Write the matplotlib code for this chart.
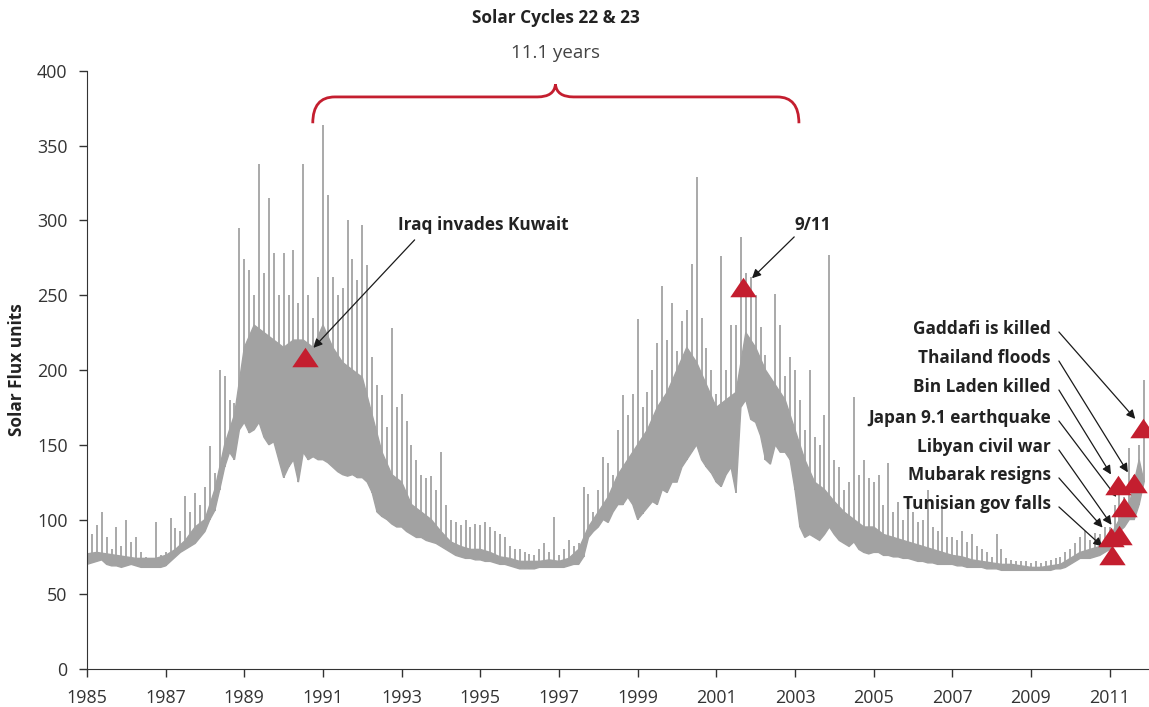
import numpy as np
import matplotlib.pyplot as plt
from matplotlib.path import Path
from matplotlib.patches import PathPatch

plt.rcParams['font.family'] = ['Open Sans', 'DejaVu Sans']

# Daily 10.7cm solar flux.
# flux_hi / flux_lo: highest spike and lowest dip, 8 readings per year from 1985.0
flux_hi = [
    82, 90, 96, 105, 88, 80, 95, 82,          # 1985
    100, 85, 88, 78, 75, 74, 98, 76,          # 1986
    78, 101, 94, 92, 116, 105, 118, 110,      # 1987
    122, 149, 131, 200, 196, 180, 178, 295,   # 1988
    274, 267, 250, 338, 265, 315, 278, 250,   # 1989
    278, 250, 280, 245, 338, 250, 235, 262,   # 1990
    364, 317, 262, 250, 255, 300, 274, 260,   # 1991
    297, 270, 209, 190, 183, 162, 228, 175,   # 1992
    184, 166, 150, 140, 130, 128, 129, 120,   # 1993
    145, 110, 100, 98, 96, 100, 95, 97,       # 1994
    96, 98, 95, 92, 90, 88, 82, 80,           # 1995
    80, 78, 77, 76, 80, 84, 78, 102,          # 1996
    76, 80, 86, 82, 84, 122, 117, 105,        # 1997
    120, 142, 138, 130, 160, 183, 170, 184,   # 1998
    234, 175, 185, 200, 218, 256, 220, 245,   # 1999
    213, 233, 240, 271, 329, 235, 215, 200,   # 2000
    184, 276, 200, 230, 230, 289, 265, 262,   # 2001
    250, 229, 210, 180, 251, 230, 196, 209,   # 2002
    200, 180, 160, 200, 155, 150, 170, 277,   # 2003
    140, 135, 120, 125, 182, 130, 140, 128,   # 2004
    125, 130, 110, 138, 105, 112, 100, 108,   # 2005
    105, 98, 100, 120, 95, 92, 110, 88,       # 2006
    88, 86, 92, 85, 90, 82, 80, 78,           # 2007
    75, 90, 80, 74, 73, 72, 72, 72,           # 2008
    71, 72, 71, 72, 73, 74, 75, 78,           # 2009
    80, 84, 88, 92, 86, 91, 90, 95,           # 2010
    95, 110, 117, 115, 148, 130, 150, 193,    # 2011
]
flux_lo = [
    70, 71, 72, 73, 70, 69, 69, 68,
    69, 70, 69, 68, 68, 68, 68, 68,
    69, 72, 75, 78, 80, 82, 84, 88,
    92, 100, 106, 120, 135, 145, 140, 160,
    165, 158, 160, 165, 155, 150, 152, 140,
    128, 135, 140, 125, 145, 140, 142, 140,
    140, 138, 135, 132, 130, 129, 130, 128,
    128, 125, 118, 105, 102, 100, 97, 95,
    95, 92, 90, 88, 88, 86, 85, 84,
    82, 80, 78, 76, 75, 74, 74, 73,
    73, 72, 72, 71, 70, 70, 69, 68,
    67, 67, 67, 67, 68, 68, 68, 68,
    68, 68, 69, 70, 70, 75, 88, 92,
    95, 100, 98, 105, 110, 110, 115, 110,
    100, 104, 108, 112, 110, 120, 118, 125,
    125, 135, 140, 145, 150, 140, 135, 131,
    125, 122, 130, 135, 118, 175, 180, 167,
    165, 156, 140, 137, 150, 145, 145, 140,
    120, 95, 88, 90, 88, 86, 90, 95,
    90, 86, 84, 82, 85, 80, 78, 77,
    78, 78, 76, 76, 75, 75, 74, 74,
    73, 72, 72, 71, 71, 70, 70, 70,
    70, 69, 69, 68, 68, 68, 68, 67,
    67, 67, 66, 66, 66, 66, 66, 66,
    66, 66, 66, 66, 66, 67, 67, 68,
    70, 72, 74, 74, 74, 75, 76, 78,
    80, 85, 92, 95, 100, 100, 110, 125,
]
# upper edge of the dense part of the band, 4 readings per year from 1985.0
flux_core = [
    77, 78, 77, 76,  75, 74, 74, 74,  76, 80, 86, 95,  100, 120, 150, 170,
    215, 230, 225, 220,  215, 220, 220, 215,  230, 215, 205, 200,  195, 170, 145, 130,
    125, 110, 105, 100,  92, 85, 82, 80,  80, 78, 75, 74,  72, 72, 72, 73,
    72, 74, 80, 95,  105, 115, 130, 140,  150, 160, 175, 185,  200, 215, 205, 190,
    175, 180, 185, 225,  215, 200, 190, 180,  160, 140, 125, 120,  112, 105, 100, 95,
    95, 90, 88, 86,  84, 82, 80, 78,  76, 75, 73, 72,  71, 70, 70, 69,
    68, 68, 69, 70,  74, 78, 80, 82,  88, 100, 110, 140,
]

# events marked on the chart
event_names = ["Iraq invades Kuwait", "9/11", "Gaddafi is killed", "Thailand floods",
               "Bin Laden killed", "Japan 9.1 earthquake", "Libyan civil war",
               "Mubarak resigns", "Tunisian gov falls"]
event_dates = [1990.54, 2001.68, 2011.86, 2011.63, 2011.20, 2011.36, 2011.23, 2011.03, 2011.05]
event_flux = [208.7, 255.5, 161, 124.4, 123, 108.4, 89.6, 88.3, 76.3]

red = '#c41e2f'
grey = '#a2a2a2'

t8 = 1985 + np.arange(len(flux_hi)) / 8
t4 = 1985 + np.arange(len(flux_core)) / 4

fig = plt.figure(figsize=(11.49, 7.07), dpi=100)
ax = fig.add_axes([0.0757, 0.0537, 0.9243, 0.846])

# dense band plus the daily spikes
ax.fill(np.concatenate([t8, t4[::-1]]), np.concatenate([flux_lo, flux_core[::-1]]),
        facecolor=grey, edgecolor=grey, lw=1)
ax.vlines(t8, flux_lo, flux_hi, color=grey, lw=1.3)

tri = [(-1, -0.74), (1, -0.74), (0, 0.74)]
ax.plot(event_dates, event_flux, linestyle='none', marker=tri, markersize=19,
        color=red, markeredgewidth=0, zorder=5)

arrow = dict(arrowstyle='-|>', color='#1a1a1a', lw=0.9, shrinkA=0, shrinkB=9,
             mutation_scale=13)
bold = dict(fontsize=12.4, fontweight='bold', color='#222222')

# top annotations
ax.text(1995.08, 297, event_names[0], ha='center', va='center', **bold)
ax.annotate('', xy=(event_dates[0], event_flux[0]), xytext=(1993.33, 287), arrowprops=arrow)
ax.text(2003.46, 297, event_names[1], ha='center', va='center', **bold)
ax.annotate('', xy=(event_dates[1], event_flux[1]), xytext=(2002.98, 289), arrowprops=arrow)

# stacked labels on the right
label_y = [227.4, 208, 188.6, 167.9, 148.5, 129.8, 110.4]
for name, d, f, ly in zip(event_names[2:], event_dates[2:], event_flux[2:], label_y):
    ax.text(2009.5, ly, name, ha='right', va='center', **bold)
    ax.annotate('', xy=(d, f), xytext=(2009.71, ly - 2), arrowprops=arrow)

# brace over the two cycles
verts = [(1990.74, 365), (1990.74, 382.6), (1991.3, 382.6),
         (1996.45, 382.6),
         (1996.88, 382.6), (1996.91, 391),
         (1996.94, 382.6), (1997.37, 382.6),
         (2002.55, 382.6),
         (2003.1, 382.6), (2003.1, 365)]
codes = [Path.MOVETO, Path.CURVE3, Path.CURVE3, Path.LINETO,
         Path.CURVE3, Path.CURVE3, Path.CURVE3, Path.CURVE3,
         Path.LINETO, Path.CURVE3, Path.CURVE3]
ax.add_patch(PathPatch(Path(verts, codes), fill=False, edgecolor=red, lw=2, clip_on=False))
ax.text(1996.91, 435.5, "Solar Cycles 22 & 23", ha='center', va='center', **bold)
ax.text(1996.91, 412, "11.1 years", ha='center', va='center', fontsize=13.5, color='#444444')

ax.set_xlim(1985, 2012)
ax.set_ylim(0, 400)
ax.set_xticks(range(1985, 2012, 2))
ax.set_yticks(range(0, 401, 50))
ax.tick_params(direction='out', length=5.5, width=1, color='#333333', labelsize=12.9,
               labelcolor='#333333')
ax.tick_params(axis='x', pad=9)
ax.tick_params(axis='y', pad=8.5)
for s in ['top', 'right']:
    ax.spines[s].set_visible(False)
for s in ['left', 'bottom']:
    ax.spines[s].set_color('#333333')
ax.set_ylabel("Solar Flux units", fontsize=12.4, fontweight='bold', color='#222222', labelpad=8)

fig.savefig('out.png', dpi=100)
